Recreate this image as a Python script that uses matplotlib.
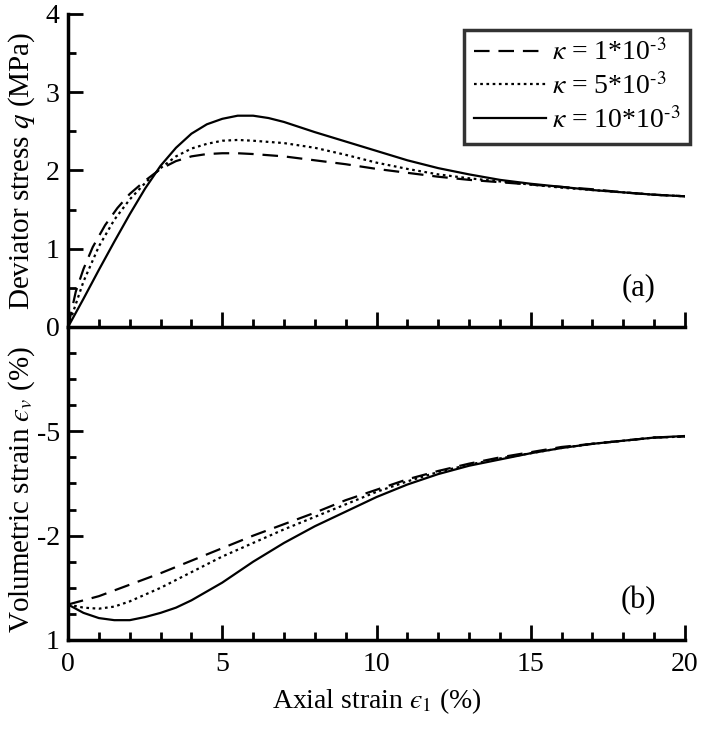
import matplotlib.pyplot as plt
from matplotlib.ticker import MultipleLocator

plt.rcParams['font.family'] = ['Liberation Serif', 'DejaVu Serif']
plt.rcParams['mathtext.fontset'] = 'stix'

# (a) deviator stress q (MPa) vs axial strain (%)
x_q1 = [0, 0.25, 0.5, 0.8, 1.2, 1.6, 2, 2.5, 3, 3.5, 4, 4.5, 5, 5.5, 6, 7, 8, 9, 10,
        11, 12, 13, 14, 15, 16, 17, 18, 19, 20]
q_1 = [0, 0.45, 0.74, 1.02, 1.30, 1.52, 1.70, 1.87, 2.02, 2.12, 2.18, 2.21, 2.22, 2.22, 2.21,
       2.18, 2.13, 2.08, 2.02, 1.97, 1.92, 1.88, 1.85, 1.82, 1.79, 1.76, 1.72, 1.69, 1.67]
x_q5 = [0, 0.5, 1, 1.5, 2, 2.5, 3, 3.5, 4, 4.5, 5, 5.5, 6, 7, 8, 9, 10, 11, 12, 13, 14,
        15, 16, 17, 18, 19, 20]
q_5 = [0, 0.58, 1.03, 1.37, 1.63, 1.84, 2.03, 2.18, 2.28, 2.34, 2.38, 2.39, 2.38, 2.35, 2.29,
       2.20, 2.10, 2.02, 1.95, 1.90, 1.86, 1.82, 1.78, 1.75, 1.72, 1.69, 1.67]
x_q10 = [0, 0.5, 1, 1.5, 2, 2.5, 3, 3.5, 4, 4.5, 5, 5.5, 6, 6.5, 7, 8, 9, 10, 11, 12, 13,
         14, 15, 16, 17, 18, 19, 20]
q_10 = [0, 0.36, 0.73, 1.09, 1.44, 1.77, 2.06, 2.29, 2.47, 2.59, 2.66, 2.70, 2.70, 2.67, 2.62,
        2.49, 2.37, 2.25, 2.13, 2.03, 1.95, 1.88, 1.83, 1.79, 1.75, 1.72, 1.69, 1.67]

# (b) volumetric strain vs axial strain
x_v1 = [0, 1, 2, 3, 4, 5, 6, 7, 8, 9, 10, 11, 12, 13, 14, 15, 16, 17, 18, 19, 20]
ev_1 = [-2.66, -2.58, -2.47, -2.36, -2.24, -2.12, -2.00, -1.89, -1.78, -1.66, -1.56, -1.46,
        -1.38, -1.31, -1.25, -1.20, -1.15, -1.12, -1.09, -1.06, -1.05]
x_v5 = [0, 0.5, 1, 1.5, 2, 3, 4, 5, 6, 7, 8, 9, 10, 11, 12, 13, 14, 15, 16, 17, 18, 19, 20]
ev_5 = [-2.66, -2.69, -2.70, -2.68, -2.63, -2.50, -2.35, -2.20, -2.07, -1.94, -1.82, -1.70,
        -1.58, -1.48, -1.39, -1.32, -1.26, -1.21, -1.16, -1.12, -1.09, -1.06, -1.05]
x_v10 = [0, 0.5, 1, 1.5, 2, 2.5, 3, 3.5, 4, 5, 6, 7, 8, 9, 10, 11, 12, 13, 14, 15, 16, 17,
         18, 19, 20]
ev_10 = [-2.66, -2.74, -2.79, -2.81, -2.81, -2.78, -2.74, -2.69, -2.62, -2.45, -2.25, -2.07,
         -1.91, -1.77, -1.63, -1.51, -1.41, -1.33, -1.27, -1.21, -1.16, -1.12, -1.09, -1.06,
         -1.045]

labels = [r'$\kappa$ = 1*10$^{\text{-3}}$', r'$\kappa$ = 5*10$^{\text{-3}}$',
          r'$\kappa$ = 10*10$^{\text{-3}}$']
ev_ticks = [0, -1, -2, -3]
ev_ticklabels = ['', '-5', '-2', '1']

fig = plt.figure(figsize=(7.05, 7.31), dpi=100)
ax1 = fig.add_axes([0.0965, 0.5527, 0.8751, 0.4282])
ax2 = fig.add_axes([0.0965, 0.1245, 0.8751, 0.4282])

lw = 1.6
ax1.plot(x_q1, q_1, color='black', lw=lw, dashes=(7, 4), label=labels[0])
ax1.plot(x_q5, q_5, color='black', lw=lw, dashes=(1.2, 1.6), label=labels[1])
ax1.plot(x_q10, q_10, color='black', lw=lw, label=labels[2])

ax2.plot(x_v1, ev_1, color='black', lw=lw, dashes=(7, 4))
ax2.plot(x_v5, ev_5, color='black', lw=lw, dashes=(1.2, 1.6))
ax2.plot(x_v10, ev_10, color='black', lw=lw)

for ax in (ax1, ax2):
    ax.set_xlim(0, 20)
    ax.spines['top'].set_visible(False)
    ax.spines['right'].set_visible(False)
    ax.spines['left'].set_linewidth(2.5)
    ax.spines['bottom'].set_linewidth(2.5)
    ax.xaxis.set_major_locator(MultipleLocator(5))
    ax.xaxis.set_minor_locator(MultipleLocator(1))
    ax.tick_params(which='major', direction='in', length=11, width=2, labelsize=20, pad=6)
    ax.tick_params(which='minor', direction='in', length=6, width=2)
    ax.tick_params(axis='x', pad=9)
    ax.patch.set_alpha(0)

ax1.set_ylim(0, 4)
ax1.yaxis.set_major_locator(MultipleLocator(1))
ax1.yaxis.set_minor_locator(MultipleLocator(0.5))
ax1.tick_params(axis='x', labelbottom=False)
ax1.set_ylabel('Deviator stress $q$ (MPa)', fontsize=21)
ax1.yaxis.set_label_coords(-0.05, 0.5)
ax1.text(0.925, 0.1, '(a)', transform=ax1.transAxes, fontsize=22, ha='center')

ax2.set_ylim(-3, 0)
ax2.set_yticks(ev_ticks)
ax2.set_yticklabels(ev_ticklabels)
ax2.yaxis.set_minor_locator(MultipleLocator(0.25))
ax2.set_xlabel('Axial strain $\u03f5_1$ (%)', fontsize=20, labelpad=6)
ax2.set_ylabel('Volumetric strain $\u03f5_v$ (%)', fontsize=21)
ax2.yaxis.set_label_coords(-0.05, 0.48)
ax2.text(0.925, 0.1, '(b)', transform=ax2.transAxes, fontsize=22, ha='center')

leg = ax1.legend(loc='upper right', bbox_to_anchor=(1.008, 0.95), fontsize=20, frameon=True,
                 fancybox=False, edgecolor='black', handlelength=2.6, handletextpad=0.2,
                 labelspacing=0.25, borderpad=0.35, borderaxespad=0)
leg.get_frame().set_linewidth(2.5)

fig.savefig('out.png', dpi=100)
